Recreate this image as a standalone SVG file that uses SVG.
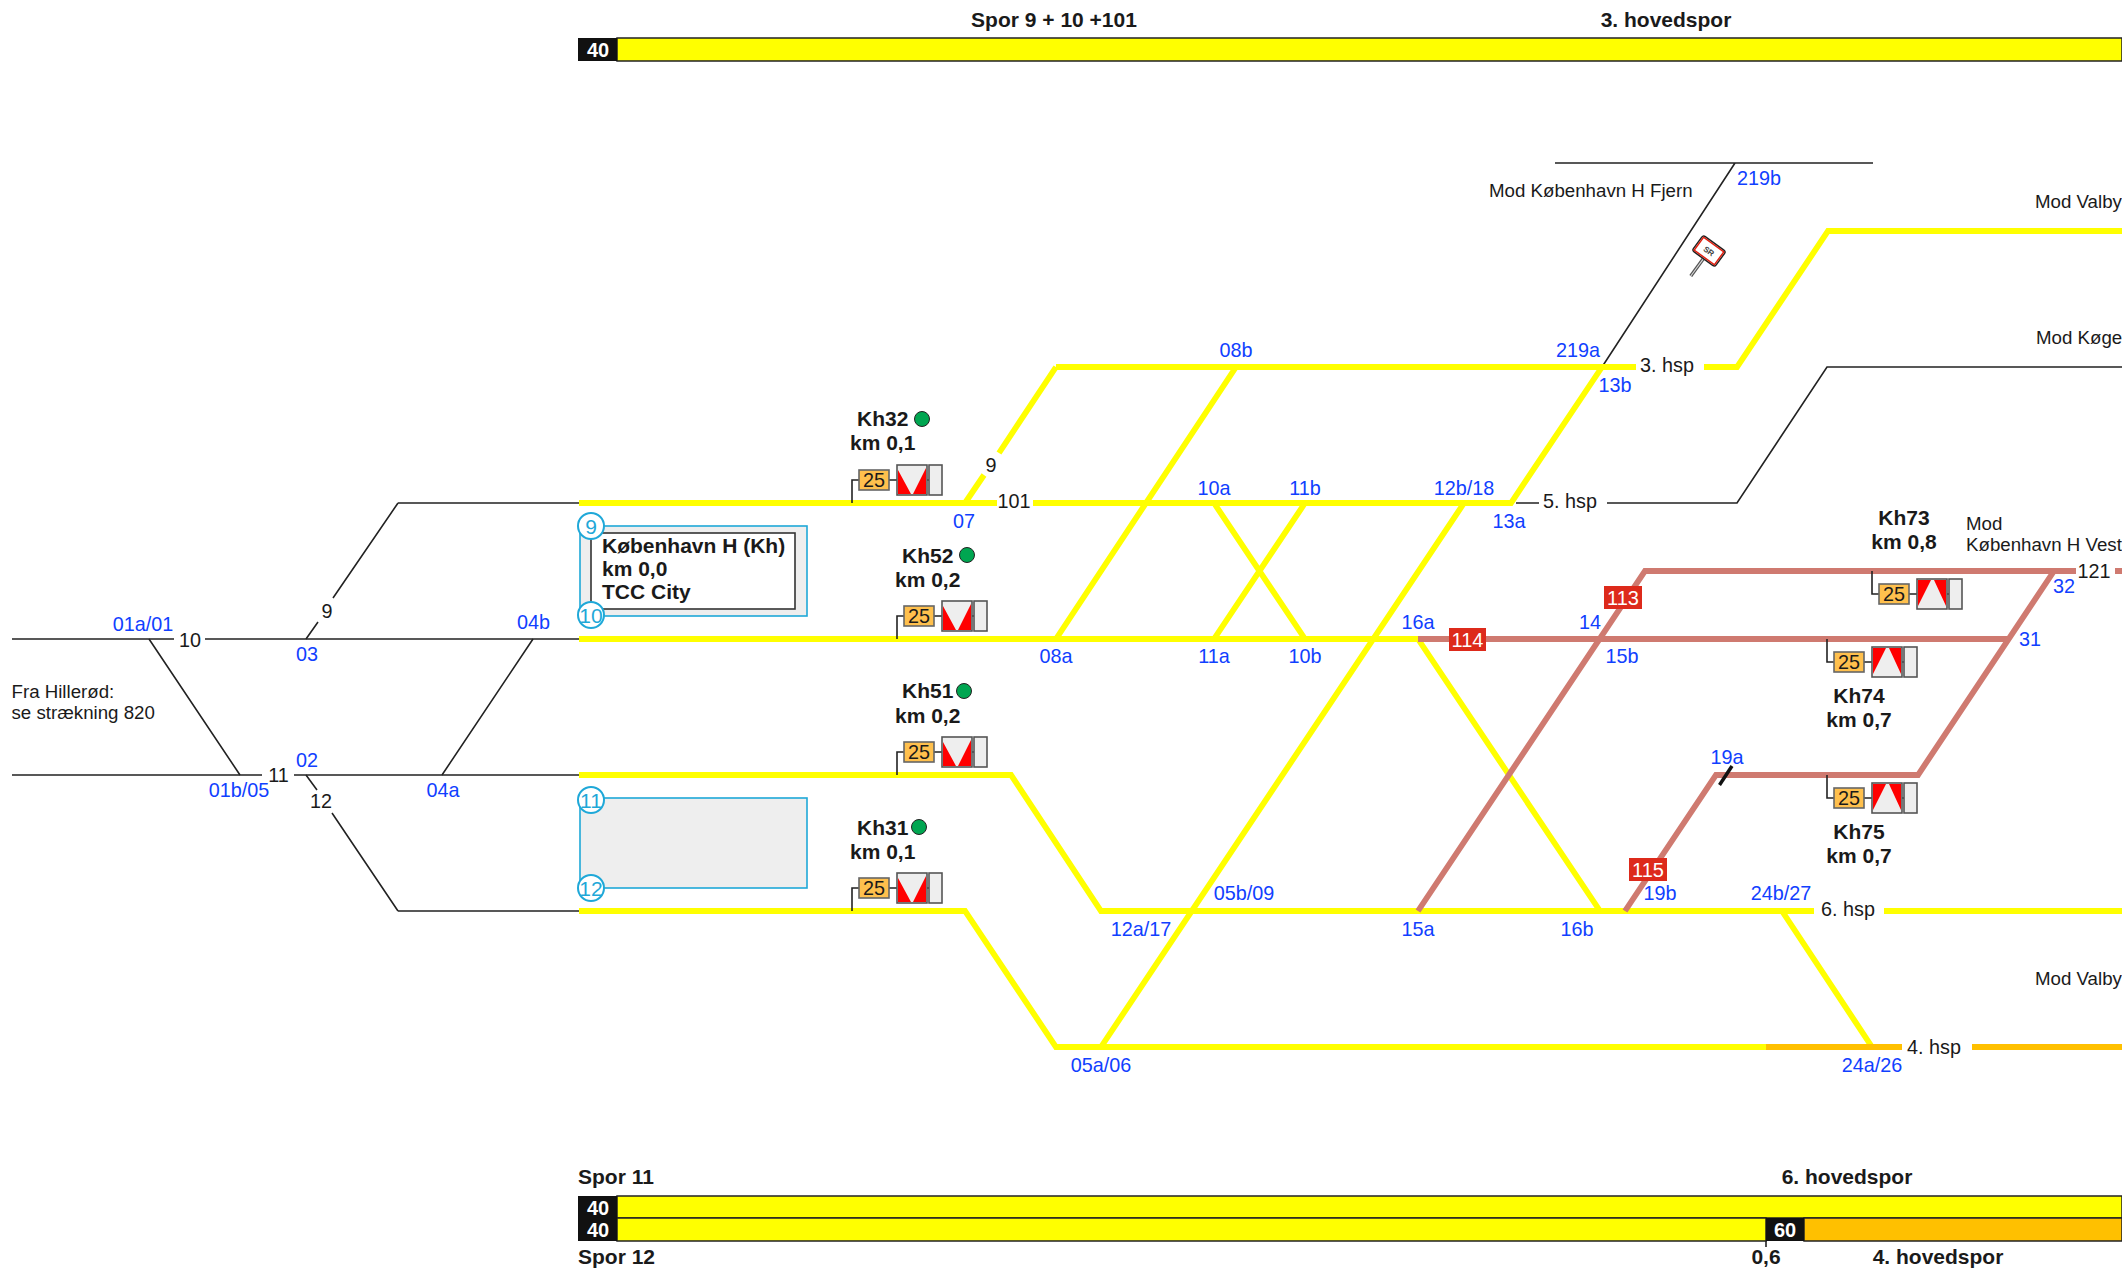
<svg xmlns="http://www.w3.org/2000/svg" width="2122" height="1268" viewBox="0 0 2122 1268">
<style>
text{font-family:"Liberation Sans",Arial,sans-serif;fill:#1a1a1a}
.m{text-anchor:middle}
.b{font-weight:bold;font-size:21px}
.n{font-size:19.8px}
.t{font-size:18.7px}
.l{font-size:19.8px;fill:#1040ff;text-anchor:middle}
.w{font-weight:bold;font-size:20px;fill:#fff;text-anchor:middle}
.y{fill:none;stroke:#ffff00;stroke-width:5.8}
.o{fill:none;stroke:#ffc000;stroke-width:5.8}
.r{fill:none;stroke:#cf7a70;stroke-width:5.8}
.k{fill:none;stroke:#222;stroke-width:1.6}
.tag{fill:#dd2a1b}
.hub{fill:#eee;stroke:#1fa8d8;stroke-width:1.6}
.cc{fill:#fff;stroke:#1fa8d8;stroke-width:2}
.ct{font-size:21px;fill:#1fa8d8;text-anchor:middle}
.sq{fill:#eee;stroke:#555;stroke-width:1.6}
.spd{fill:#ffc04d;stroke:#666;stroke-width:1.6}
.red{fill:#ff0000}
.dot{fill:#00a651;stroke:#222;stroke-width:1}
.bar{stroke:#222;stroke-width:1.5}
</style>
<defs>
<g id="sigV">
<path class="k" d="M0 0V-23H7M37-23H45M75-23H77"/>
<rect class="spd" x="7" y="-33" width="30" height="20"/>
<rect class="sq" x="45" y="-38" width="30" height="30"/>
<path class="red" d="M46-33V-9H59ZM74-35V-9H61Z"/>
<rect class="sq" x="77" y="-38" width="13" height="30"/>
<text class="n m" x="22" y="-16">25</text>
</g>
<g id="sigA">
<path class="k" d="M0 0V23H7M37 23H45M75 23H77"/>
<rect class="spd" x="7" y="13" width="30" height="20"/>
<rect class="sq" x="45" y="8" width="30" height="30"/>
<path class="red" d="M46 9V35L59 9ZM74 9V35L62 9Z"/>
<rect class="sq" x="77" y="8" width="13" height="30"/>
<text class="n m" x="22" y="30">25</text>
</g>
</defs>

<g id="connectors">
<path class="k" d="M12 639H174M205 639H579M12 775H262M294 775H579M398 503H579M398 911H579"/>
<path class="k" d="M149 639L240 775M306 639L318 622M333 598L398 503M306 775L317 790M332 813L398 911M442 775L533 639"/>
<path class="k" d="M1555 163H1873M1735 163L1602 367M1516 503H1539M1607 503H1737L1827 367H2122"/>
<path class="y" d="M579 503H997M1033 503H1511L1602 367M1056 367H1636M1704 367H1737L1828 231H2122"/>
<path class="y" d="M965 503L984 475M999 453L1056 367M1056 639L1236 367M579 639H1418M1214 503L1305 639M1214 639L1305 503"/>
<path class="y" d="M579 775H1011L1101 911H1814M1884 911H2122M579 911H965L1056 1047H1766"/>
<path class="y" d="M1101 1047L1464 503M1418 639L1600 911M1782 911L1872 1047"/>
<path class="o" d="M1766 1047H1902M1972 1047H2122"/>
<path class="r" d="M1418 911L1645 571H2076M2115 571H2122M1418 639H2007M2054 571L1918 775H1716L1625 911"/>
<path d="M1719.500 785L1732 766" fill="none" stroke="#111" stroke-width="3.500"/>
</g>

<g id="speed-top">
<rect class="bar" x="617" y="38" width="1505" height="23" fill="#ffff00"/>
<rect x="578" y="38" width="39" height="23" fill="#111"/>
<text class="w" x="598" y="57">40</text>
<text class="b m" x="1054" y="27">Spor 9 + 10 +101</text>
<text class="b m" x="1666" y="27">3. hovedspor</text>
</g>
<g id="speed-bottom">
<rect class="bar" x="617" y="1196" width="1505" height="22" fill="#ffff00"/>
<rect class="bar" x="617" y="1218" width="1149" height="23" fill="#ffff00"/>
<rect class="bar" x="1804" y="1218" width="318" height="23" fill="#ffc000"/>
<rect x="578" y="1196" width="39" height="45" fill="#111"/>
<rect x="1766" y="1218" width="38" height="23" fill="#111"/>
<path class="k" d="M1766 1241V1247"/>
<text class="w" x="598" y="1215">40</text>
<text class="w" x="598" y="1237">40</text>
<text class="w" x="1785" y="1237">60</text>
<text class="b" x="578" y="1184">Spor 11</text>
<text class="b m" x="1847" y="1184">6. hovedspor</text>
<text class="b" x="578" y="1264">Spor 12</text>
<text class="b m" x="1766" y="1264">0,6</text>
<text class="b m" x="1938" y="1264">4. hovedspor</text>
</g>

<g id="station-kh">
<rect class="hub" x="580" y="526" width="227" height="90"/>
<rect x="591" y="533" width="204" height="76" fill="#fff" stroke="#333" stroke-width="1.600"/>
<circle class="cc" cx="591" cy="526" r="13"/><text class="ct" x="591" y="533.500">9</text>
<circle class="cc" cx="591" cy="615" r="13"/><text class="ct" x="591" y="622.500">10</text>
<text class="b" x="602" y="553">København H (Kh)</text>
<text class="b" x="602" y="576">km 0,0</text>
<text class="b" x="602" y="599">TCC City</text>
</g>
<g id="station-box-11-12">
<rect class="hub" x="580" y="798" width="227" height="90"/>
<circle class="cc" cx="591" cy="800" r="13"/><text class="ct" x="591" y="807.500">11</text>
<circle class="cc" cx="591" cy="888" r="13"/><text class="ct" x="591" y="895.500">12</text>
</g>

<g id="Kh32"><use href="#sigV" transform="translate(852 503)"/><text class="b" x="857" y="426">Kh32</text><circle class="dot" cx="922" cy="419" r="7.500"/><text class="b" x="850" y="450">km 0,1</text></g>
<g id="Kh52"><use href="#sigV" transform="translate(897 639)"/><text class="b" x="902" y="563">Kh52</text><circle class="dot" cx="967" cy="555" r="7.500"/><text class="b" x="895" y="587">km 0,2</text></g>
<g id="Kh51"><use href="#sigV" transform="translate(897 775)"/><text class="b" x="902" y="698">Kh51</text><circle class="dot" cx="964" cy="691" r="7.500"/><text class="b" x="895" y="723">km 0,2</text></g>
<g id="Kh31"><use href="#sigV" transform="translate(852 911)"/><text class="b" x="857" y="835">Kh31</text><circle class="dot" cx="919" cy="827" r="7.500"/><text class="b" x="850" y="859">km 0,1</text></g>
<g id="Kh73"><use href="#sigA" transform="translate(1872 571)"/><text class="b m" x="1904" y="525">Kh73</text><text class="b m" x="1904" y="549">km 0,8</text></g>
<g id="Kh74"><use href="#sigA" transform="translate(1827 639)"/><text class="b m" x="1859" y="703">Kh74</text><text class="b m" x="1859" y="727">km 0,7</text></g>
<g id="Kh75"><use href="#sigA" transform="translate(1827 775)"/><text class="b m" x="1859" y="839">Kh75</text><text class="b m" x="1859" y="863">km 0,7</text></g>

<g id="tag-113"><rect class="tag" x="1604" y="586" width="38" height="23"/><text class="w" style="font-weight:normal" x="1623" y="604.500">113</text></g>
<g id="tag-114"><rect class="tag" x="1449" y="628" width="37" height="23"/><text class="w" style="font-weight:normal" x="1467.500" y="646.500">114</text></g>
<g id="tag-115"><rect class="tag" x="1629" y="858" width="38" height="23"/><text class="w" style="font-weight:normal" x="1648" y="876.500">115</text></g>

<g id="sign-sr" transform="translate(1709 251) rotate(36)">
<path d="M0 10V31" stroke="#555" stroke-width="3.500" fill="none"/>
<path d="M0 10V31" stroke="#ddd" stroke-width="1" fill="none"/>
<rect x="-14" y="-9.500" width="28" height="19" rx="2.500" fill="#fff" stroke="#222" stroke-width="1.500"/>
<rect x="-12.500" y="-8" width="25" height="16" fill="none" stroke="#e02010" stroke-width="1.500"/>
<text class="m" x="0" y="3" style="font-size:8px;font-weight:bold;fill:#444">SR</text>
</g>

<g id="labels-track">
<text class="n m" x="190" y="647">10</text>
<text class="n m" x="327" y="618">9</text>
<text class="n m" x="278.500" y="782">11</text>
<text class="n m" x="321" y="808">12</text>
<text class="n m" x="991" y="472">9</text>
<text class="n m" x="1014" y="508">101</text>
<text class="n m" x="1667" y="372">3. hsp</text>
<text class="n m" x="1570" y="508">5. hsp</text>
<text class="n m" x="1848" y="916">6. hsp</text>
<text class="n m" x="1934" y="1054">4. hsp</text>
<text class="n m" x="2094" y="578">121</text>
</g>
<g id="labels-text">
<text class="t" x="11.500" y="698">Fra Hillerød:</text>
<text class="t" x="11.500" y="719">se strækning 820</text>
<text class="t" x="1489" y="197">Mod København H Fjern</text>
<text class="t" x="2035" y="208">Mod Valby</text>
<text class="t" x="2036" y="344">Mod Køge</text>
<text class="t" x="2035" y="985">Mod Valby</text>
<text class="t" x="1966" y="530">Mod</text>
<text class="t" x="1966" y="551">København H Vest</text>
</g>
<g id="labels-switches">
<text class="l" x="143" y="631">01a/01</text>
<text class="l" x="307" y="661">03</text>
<text class="l" x="533.500" y="629">04b</text>
<text class="l" x="239" y="797">01b/05</text>
<text class="l" x="307" y="767">02</text>
<text class="l" x="443" y="797">04a</text>
<text class="l" x="964" y="528">07</text>
<text class="l" x="1056" y="663">08a</text>
<text class="l" x="1236" y="357">08b</text>
<text class="l" x="1214" y="495">10a</text>
<text class="l" x="1305" y="495">11b</text>
<text class="l" x="1214" y="663">11a</text>
<text class="l" x="1305" y="663">10b</text>
<text class="l" x="1464" y="495">12b/18</text>
<text class="l" x="1509" y="528">13a</text>
<text class="l" x="1615" y="392">13b</text>
<text class="l" x="1578" y="357">219a</text>
<text class="l" x="1759" y="185">219b</text>
<text class="l" x="1101" y="1072">05a/06</text>
<text class="l" x="1141" y="936">12a/17</text>
<text class="l" x="1244" y="900">05b/09</text>
<text class="l" x="1418" y="936">15a</text>
<text class="l" x="1418" y="629">16a</text>
<text class="l" x="1577" y="936">16b</text>
<text class="l" x="1660" y="900">19b</text>
<text class="l" x="1781" y="900">24b/27</text>
<text class="l" x="1872" y="1072">24a/26</text>
<text class="l" x="1590" y="629">14</text>
<text class="l" x="1622" y="663">15b</text>
<text class="l" x="2064" y="593">32</text>
<text class="l" x="2030" y="646">31</text>
<text class="l" x="1727" y="764">19a</text>
</g>
</svg>
